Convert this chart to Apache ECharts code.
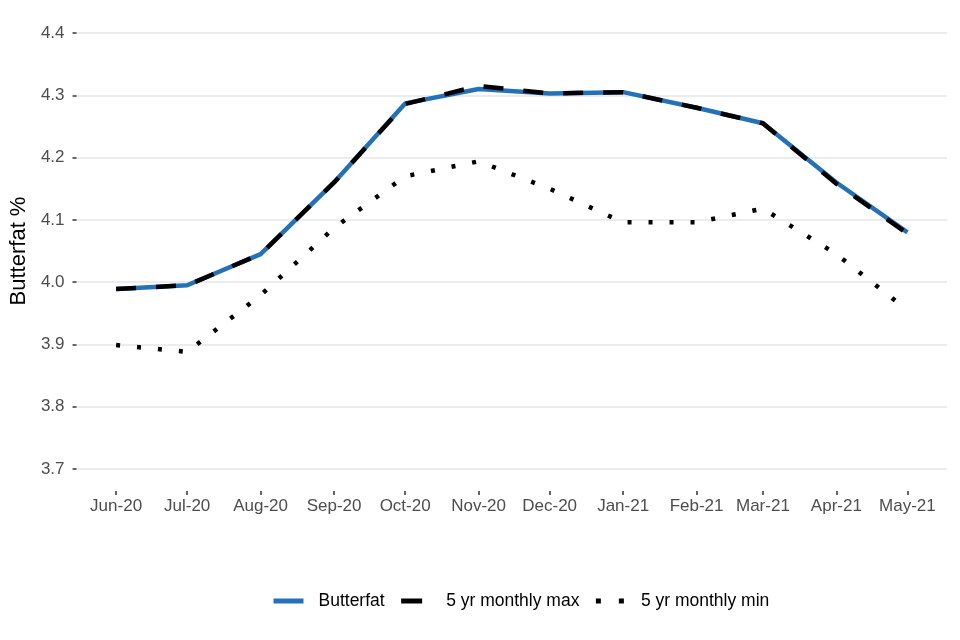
<!DOCTYPE html>
<html>
<head>
<meta charset="utf-8">
<script src="https://cdn.jsdelivr.net/npm/echarts@6/dist/echarts.min.js"></script>
<style>html,body{margin:0;padding:0;background:#fff;}#c{width:960px;height:640px;}</style>
</head>
<body>
<div id="c"></div>
<script>
const months = ['2020-06-01','2020-07-01','2020-08-01','2020-09-01','2020-10-01','2020-11-01','2020-12-01','2021-01-01','2021-02-01','2021-03-01','2021-04-01','2021-05-01'];
const butterfat = [3.989, 3.995, 4.045, 4.160, 4.287, 4.310, 4.303, 4.305, 4.280, 4.255, 4.160, 4.080];
const maxVals   = [3.989, 3.995, 4.045, 4.160, 4.286, 4.315, 4.303, 4.305, 4.280, 4.255, 4.158, 4.078];
const minVals   = [3.899, 3.888, 3.979, 4.087, 4.170, 4.194, 4.150, 4.096, 4.096, 4.118, 4.045, 3.955];
const yTicks = [3.7, 3.8, 3.9, 4.0, 4.1, 4.2, 4.3, 4.4];
const monthNames = ['Jan','Feb','Mar','Apr','May','Jun','Jul','Aug','Sep','Oct','Nov','Dec'];

// x positions as days since first month (value axis)
function ts(s){ const p=s.split('-'); return Date.UTC(+p[0], +p[1]-1, +p[2]); }
const DAY = 86400000;
const t0 = ts(months[0]);
const days = months.map(s => Math.round((ts(s)-t0)/DAY));
const pad = (days[days.length-1]-days[0])*0.05;
function pair(arr){ return arr.map((v,i)=>[days[i], v]); }
function fmt(v){ const d=new Date(t0 + Math.round(v)*DAY); return monthNames[d.getUTCMonth()]+'-'+String(d.getUTCFullYear()).slice(2); }

const BLUE = '#2372b9';
const LW = 4.5;
const chart = echarts.init(document.getElementById('c'), null, {renderer:'canvas'});
const font = 'Liberation Sans, Arial, sans-serif';
chart.setOption({
  backgroundColor:'#fff',
  animation:false,
  textStyle:{fontFamily:font},
  grid:{left:75, right:13, top:33, bottom:171, containLabel:false},
  legend:{
    top:587, left:266,
    itemWidth:30, itemHeight:6, itemGap:14,
    itemStyle:{opacity:0},
    textStyle:{color:'#000', fontSize:17.5, fontFamily:font, padding:[0,0,0,10]},
    data:[
      {name:'Butterfat', lineStyle:{color:BLUE, width:5, type:'solid'}},
      {name:'5 yr monthly max', lineStyle:{color:'#000', width:5, type:[21,20]}},
      {name:'5 yr monthly min', lineStyle:{color:'#000', width:5, type:[5,18]}}
    ]
  },
  xAxis:{
    type:'value',
    min:days[0]-pad, max:days[days.length-1]+pad,
    offset:22,
    axisLine:{show:false, onZero:false},
    axisTick:{show:true, length:4, lineStyle:{color:'#333', width:1.5}, customValues:days},
    axisLabel:{color:'#4d4d4d', fontSize:17, margin:7, customValues:days, formatter:fmt, hideOverlap:false, showMinLabel:true, showMaxLabel:true},
    splitLine:{show:false}
  },
  yAxis:{
    type:'value', min:3.7, max:4.4, interval:0.1,
    name:'Butterfat %', nameLocation:'middle', nameGap:44,
    nameTextStyle:{color:'#000', fontSize:22, fontFamily:font},
    axisLine:{show:false, onZero:false},
    axisTick:{show:true, length:4, lineStyle:{color:'#333', width:1.5}},
    axisLabel:{color:'#4d4d4d', fontSize:17, margin:12, formatter:v=>v.toFixed(1)},
    splitLine:{show:true, lineStyle:{color:'#e6e6e6', width:1.5}}
  },
  series:[
    {name:'Butterfat', type:'line', data:pair(butterfat), symbol:'none', z:2,
     lineStyle:{color:BLUE, width:LW, cap:'butt'}, itemStyle:{color:BLUE}},
    {name:'5 yr monthly max', type:'line', data:pair(maxVals), symbol:'none', z:3,
     lineStyle:{color:'#000', width:LW, type:[20,20], cap:'butt'}, itemStyle:{color:'#000'}},
    {name:'5 yr monthly min', type:'line', data:pair(minVals), symbol:'none', z:3,
     lineStyle:{color:'#000', width:LW, type:[4,17], cap:'butt'}, itemStyle:{color:'#000'}}
  ]
});
</script>
</body>
</html>
